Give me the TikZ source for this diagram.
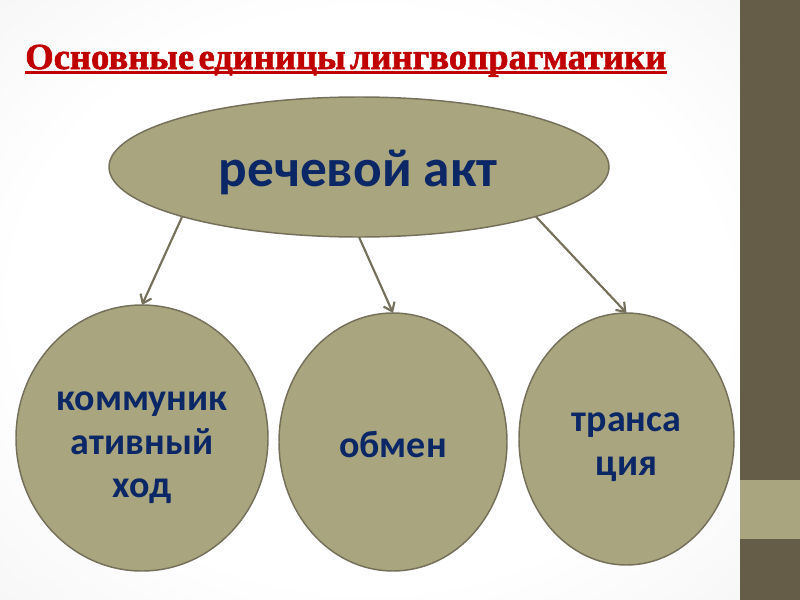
\documentclass[tikz,border=0pt]{standalone}
\usepackage{fontspec}
\setmainfont{Carlito}
\newfontfamily\titlefont[FakeBold=1.6]{Liberation Serif}
\usetikzlibrary{shapes.geometric,arrows.meta}

\definecolor{olivefill}{HTML}{A9A57E}
\definecolor{oliveline}{HTML}{75705A}
\definecolor{sidebar}{HTML}{655D48}
\definecolor{navy}{HTML}{0C2766}
\definecolor{titlered}{HTML}{C00000}

\pgfdeclareradialshading{slidebg}{\pgfpoint{0bp}{0bp}}{color(0bp)=(white); color(24bp)=(white); color(42bp)=(black!5); color(62bp)=(black!11)}

\begin{document}
\begin{tikzpicture}[x=0.75pt,y=-0.75pt,
    blob/.style={ellipse,draw=oliveline,line width=1.1pt,fill=olivefill,inner sep=0pt,outer sep=0pt},
    blobtext/.style={text=navy,font=\bfseries\fontsize{28.5}{32.6}\selectfont,align=center,inner sep=0pt},
    arr/.style={draw=oliveline,line width=1.6pt,-{Straight Barb[length=6pt,width=9pt]}}]
    % Hintergrund
    \useasboundingbox (0,0) rectangle (800,600);
    \shade[shading=slidebg] (0,0) rectangle (740,600);
    \fill[sidebar] (740,0) rectangle (800,600);
    \fill[olivefill] (740,480) rectangle (800,539);

    % Titel
    \node[anchor=base west,inner sep=0pt,text=titlered,font=\titlefont\bfseries\fontsize{27.5}{30}\selectfont] (titel) at (25,69)
        {\resizebox{480.75pt}{\height}{\spaceskip=0.12em Основные единицы лингвопрагматики}};
    \draw[titlered,line width=2.4pt] ([yshift=-2.6pt]titel.base west) -- ([yshift=-2.6pt]titel.base east);

    % Sprechakt
    \node[blob,minimum width=375pt,minimum height=105pt] (akt) at (359,167) {};
    \node[blobtext,font=\bfseries\fontsize{40}{48}\selectfont] (aktText) at (358,172) {речевой акт};

    % Einheiten
    \node[blob,minimum width=189pt,minimum height=199.5pt] (hod) at (142,438) {};
    \node[blob,minimum width=171pt,minimum height=193.5pt] (obmen) at (393,442) {};
    \node[blob,minimum width=161.25pt,minimum height=189pt] (trans) at (626.5,439) {};
    \node[blobtext] (hodText) at (142,448) {коммуник\\ативный\\ход};
    \node[blobtext] (obmenText) at (393,445) {обмен};
    \node[blobtext] (transText) at (626.5,447) {транса\\ция};

    % Pfeile
    \draw[arr] (akt.south west) -- (hod.north);
    \draw[arr] (akt.south) -- (obmen.north);
    \draw[arr] (akt.south east) -- (trans.north);
\end{tikzpicture}
\end{document}
